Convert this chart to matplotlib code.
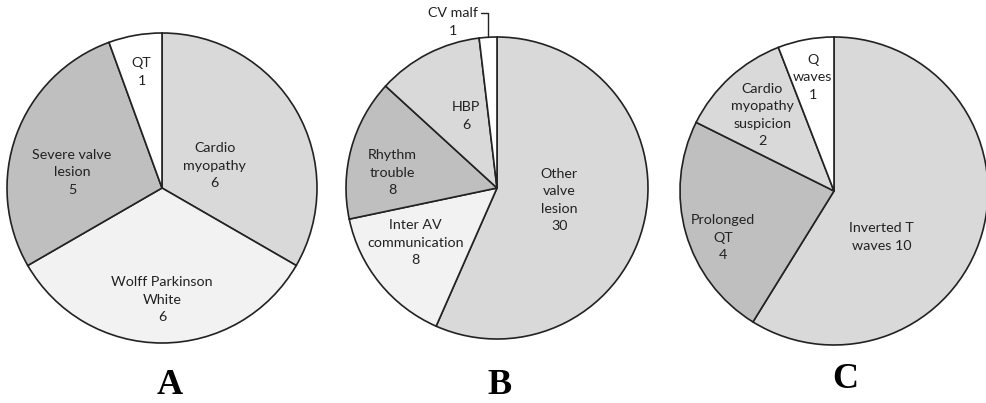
import numpy as np
import matplotlib
matplotlib.use('Agg')
import matplotlib.pyplot as plt

plt.rcParams['font.family'] = ['Lato', 'DejaVu Sans']

# panel A
labelsA = ['Cardio\nmyopathy\n6', 'Wolff Parkinson\nWhite\n6', 'Severe valve\nlesion\n5', 'QT\n1']
valuesA = [6, 6, 5, 1]
colorsA = ['#d9d9d9', '#f2f2f2', '#bfbfbf', '#ffffff']

# panel B
labelsB = ['Other\nvalve\nlesion\n30', 'Inter AV\ncommunication\n8', 'Rhythm\ntrouble\n8', 'HBP\n6', 'CV malf\n1']
valuesB = [30, 8, 8, 6, 1]
colorsB = ['#d9d9d9', '#f2f2f2', '#bfbfbf', '#d9d9d9', '#ffffff']

# panel C
labelsC = ['Inverted T\nwaves 10', 'Prolonged\nQT\n4', 'Cardio\nmyopathy\nsuspicion\n2', 'Q\nwaves\n1']
valuesC = [10, 4, 2, 1]
colorsC = ['#d9d9d9', '#bfbfbf', '#d9d9d9', '#ffffff']

W, H = 987, 403
fig = plt.figure(figsize=(W / 100, H / 100), dpi=100)
FS = 10.3
LS = 1.55


def draw_pie(cx, cy, R, values, labels, colors, radii, shifts, outside=None):
    ax = fig.add_axes([(cx - R) / W, (H - cy - R) / H, 2 * R / W, 2 * R / H])
    wedges, _ = ax.pie(values, colors=colors, startangle=90, counterclock=False,
                       radius=1, wedgeprops=dict(edgecolor='#222222', linewidth=1.2))
    ax.set_xlim(-1, 1)
    ax.set_ylim(-1, 1)
    ax.set_aspect('equal')
    ax.axis('off')
    for i, w in enumerate(wedges):
        if outside is not None and i == outside:
            continue
        ang = np.deg2rad((w.theta1 + w.theta2) / 2 + shifts[i])
        ax.text(radii[i] * np.cos(ang), radii[i] * np.sin(ang), labels[i],
                ha='center', va='center', fontsize=FS, color='#222222',
                linespacing=LS)
    return ax, wedges


draw_pie(162, 188, 155, valuesA, labelsA, colorsA,
         [0.37, 0.72, 0.59, 0.76], [-7, 0, 10, 0])
axB, wB = draw_pie(497, 188, 151, valuesB, labelsB, colorsB,
                   [0.42, 0.65, 0.70, 0.52, 0], [1, -5, 7, -4, 0], outside=4)
# CV malf label with leader line
w = wB[4]
ang = np.deg2rad((w.theta1 + w.theta2) / 2)
ex, ey = np.cos(ang), np.sin(ang)
axB.annotate(labelsB[4], xy=(ex, ey), xytext=(ex - 0.23, ey + 0.1),
             ha='center', va='center', fontsize=FS, color='#222222',
             linespacing=LS, annotation_clip=False,
             arrowprops=dict(arrowstyle='-', color='#222222', lw=1,
                             shrinkA=0, shrinkB=0,
                             connectionstyle='angle,angleA=0,angleB=90,rad=0',
                             relpos=(1.0, 0.8)))
draw_pie(834, 191, 154, valuesC, labelsC, colorsC,
         [0.43, 0.78, 0.68, 0.75], [-28, 7, 1, 0])

for x, y, s in [(170, 385, 'A'), (500, 385, 'B'), (845, 380, 'C')]:
    fig.text(x / W, 1 - y / H, s, ha='center', va='center', fontsize=26,
             fontweight='bold', family='Liberation Serif')

fig.savefig('out.png', dpi=100, facecolor='white')
